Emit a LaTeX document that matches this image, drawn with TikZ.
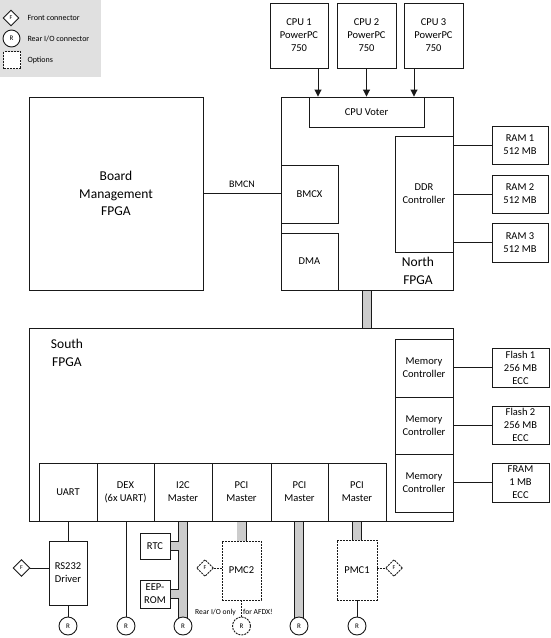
\documentclass[tikz,border=0pt]{standalone}
\usepackage{fontspec}
\setmainfont{Carlito}
\usetikzlibrary{shapes.geometric,arrows.meta,backgrounds}

\tikzset{
  blk/.style={draw=black!90, line width=0.9pt, fill=white, inner sep=0pt, align=center,
    font=\fontsize{10.5}{13}\selectfont},
  opt/.style={blk, dash pattern=on 2pt off 1pt},
  big/.style={font=\fontsize{13.5}{17.5}\selectfont, align=center},
  rear/.style={draw=black!90, line width=0.9pt, fill=white, circle, minimum size=18,
    inner sep=0pt, font=\fontsize{7}{8}\selectfont},
  front/.style={draw=black!90, line width=0.9pt, fill=white, diamond, aspect=1,
    minimum width=17, minimum height=17, inner sep=0pt, font=\fontsize{6}{7}\selectfont},
  wire/.style={draw=black!90, line width=0.9pt},
  optwire/.style={wire, dash pattern=on 2pt off 1pt},
  bus/.style={draw=black!20, line width=8.2pt, preaction={draw=black!90, line width=10pt}},
  legtext/.style={anchor=west, font=\fontsize{8}{10}\selectfont},
  note/.style={font=\fontsize{7.6}{9}\selectfont, inner sep=0pt}
}

\begin{document}
\begin{tikzpicture}[x=1pt, y=-1pt]
\useasboundingbox (0,0) rectangle (550,638);

% legend
\fill[black!12] (0,0) rectangle (101,77);
\node[front, minimum width=16, minimum height=16] (lf) at (11,18) {F};
\node[rear, minimum size=17] (lr) at (11.5,38.5) {R};
\node[opt, minimum size=17] (lo) at (12,60) {};
\node[legtext] (lfT) at (24,18) {Front connector};
\node[legtext] (lrT) at (24,38.5) {Rear I/O connector};
\node[legtext] (loT) at (24,60) {Options};

% CPUs
\node[blk, minimum width=58, minimum height=65] (cpu1) at (299,35.5) {CPU 1\\PowerPC\\750};
\node[blk, minimum width=59, minimum height=65] (cpu2) at (366.5,35.5) {CPU 2\\PowerPC\\750};
\node[blk, minimum width=59, minimum height=65] (cpu3) at (433.5,35.5) {CPU 3\\PowerPC\\750};

% North FPGA
\node[blk, minimum width=172, minimum height=193] (north) at (367,193.5) {};
\node[blk, minimum width=115, minimum height=30] (voter) at (366.5,112) {CPU Voter};
\node[blk, minimum width=58, minimum height=116] (ddr) at (424,194) {DDR\\Controller};
\node[blk, minimum width=57, minimum height=58] (bmcx) at (309.5,194) {BMCX};
\node[blk, minimum width=57, minimum height=57] (dma) at (309.5,261.5) {DMA};
\node[big] (northT) at (418,271) {North\\FPGA};

\node[blk, minimum width=56, minimum height=38] (ram1) at (520,145) {RAM 1\\512 MB};
\node[blk, minimum width=56, minimum height=38] (ram2) at (520,194) {RAM 2\\512 MB};
\node[blk, minimum width=56, minimum height=39] (ram3) at (520,242.5) {RAM 3\\512 MB};

\node[blk, big, minimum width=174, minimum height=193] (bmf) at (116,193.5) {Board\\Management\\FPGA};

% South FPGA
\node[blk, minimum width=424, minimum height=193] (south) at (241,424.5) {};
\node[big] (southT) at (67,353) {South\\FPGA};
\node[blk, minimum width=58, minimum height=58] (mc1) at (424,368) {Memory\\Controller};
\node[blk, minimum width=58, minimum height=57] (mc2) at (424,425.5) {Memory\\Controller};
\node[blk, minimum width=58, minimum height=58] (mc3) at (424,483) {Memory\\Controller};

\node[blk, minimum width=57, minimum height=39] (flash1) at (520.5,367.5) {Flash 1\\256 MB\\ECC};
\node[blk, minimum width=57, minimum height=38] (flash2) at (520.5,425) {Flash 2\\256 MB\\ECC};
\node[blk, minimum width=57, minimum height=39] (fram) at (520.5,482.5) {FRAM\\1 MB\\ECC};

\node[blk, minimum width=58, minimum height=58] (uart) at (68,492) {UART};
\node[blk, minimum width=57, minimum height=58] (dex) at (125.5,492) {DEX\\(6x UART)};
\node[blk, minimum width=58, minimum height=58] (i2c) at (183,492) {I2C\\Master};
\node[blk, minimum width=59, minimum height=58] (pci1) at (241.5,492) {PCI\\Master};
\node[blk, minimum width=57, minimum height=58] (pci2) at (299.5,492) {PCI\\Master};
\node[blk, minimum width=58, minimum height=58] (pci3) at (357,492) {PCI\\Master};

% below the South FPGA
\node[blk, minimum width=38, minimum height=64] (rs232) at (68,573) {RS232\\Driver};
\node[front] (f1) at (21.5,568) {F};
\node[blk, minimum width=30, minimum height=26] (rtc) at (155,546) {RTC};
\node[blk, minimum width=30, minimum height=28] (eep) at (155,594) {EEP-\\ROM};
\node[opt, minimum width=39, minimum height=59] (pmc2) at (241.5,570.5) {PMC2};
\node[front, dash pattern=on 2pt off 1pt] (f2) at (205,568) {F};
\node[opt, minimum width=40, minimum height=60] (pmc1) at (357,570) {PMC1};
\node[front, dash pattern=on 2pt off 1pt] (f3) at (394,568) {F};
\node[note, anchor=east] (afdxA) at (236,612) {Rear I/O only};
\node[note, anchor=west] (afdxB) at (243,612) {for AFDX!};

\node[rear] (r1) at (68,626) {R};
\node[rear] (r2) at (126,626) {R};
\node[rear] (r3) at (183,626) {R};
\node[rear, dash pattern=on 2pt off 1pt] (r4) at (241.5,626) {R};
\node[rear] (r5) at (299,626) {R};
\node[rear] (r6) at (357,626) {R};

% connectors
\foreach \c/\s in {cpu1/19, cpu2/0, cpu3/-19.5}
  \draw[wire, -{Triangle[length=7pt,width=7pt]}] ([xshift=\s]\c.south) -- ([xshift=\s]\c.south |- voter.north);

\foreach \r in {ram1, ram2, ram3}
  \draw[wire] (\r.west) -- (\r.west -| ddr.east);
\foreach \f/\m in {flash1/mc1, flash2/mc2, fram/mc3}
  \draw[wire] (\f.west) -- (\f.west -| \m.east);

\draw[wire] (bmf.east) -- (bmf.east -| bmcx.west)
  node[midway, above=2pt, font=\fontsize{10}{12}\selectfont] (bmcn) {BMCN};

\draw[wire] (uart.south) -- (rs232.north);
\draw[wire] (rs232.south) -- (r1.north);
\draw[wire] (f1.east) -- (f1.east -| rs232.west);
\draw[wire] (dex.south -| r2.north) -- (r2.north);
\draw[optwire] (f2.east) -- (f2.east -| pmc2.west);
\draw[optwire] (pmc2.south) -- (r4.north);
\draw[optwire] (f3.west) -- (f3.west -| pmc1.east);
\draw[wire] (pmc1.south) -- (r6.north);

\begin{scope}[on background layer]
\draw[bus] (north.south) -- (north.south |- south.north);
\draw[bus] (i2c.south) -- (r3.center)
  (rtc.east) -- (rtc.east -| i2c.south)
  (eep.east) -- (eep.east -| i2c.south);
\draw[bus] (pci1.south) -- (pmc2.north);
\draw[bus] (pci2.south -| r5.center) -- (r5.center);
\draw[bus] (pci3.south) -- (pmc1.north);
\end{scope}
\end{tikzpicture}
\end{document}
